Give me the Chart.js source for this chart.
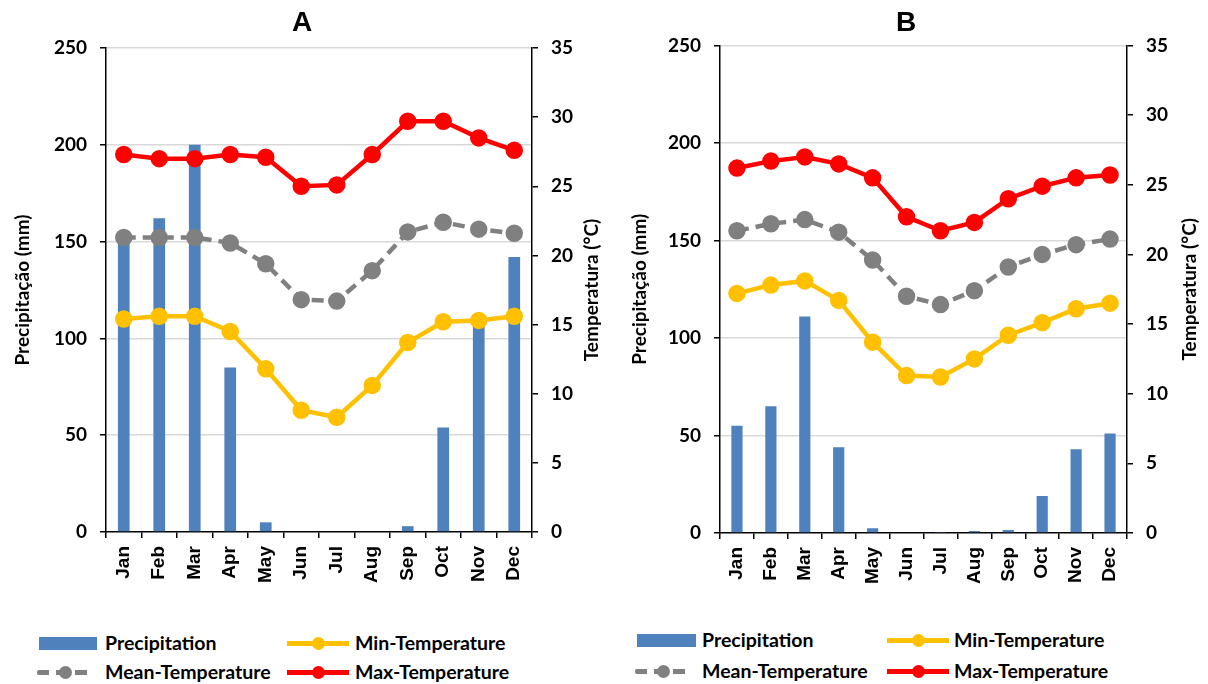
<!DOCTYPE html>
<html lang="pt-br">

<head>
    <meta charset="UTF-8">
    <title>Precipitação e Temperatura | A e B</title>
    <script src="https://cdn.jsdelivr.net/npm/chart.js"></script>
    <style>
        body {
            margin: 0;
            background: #fff;
        }

        .janela {
            position: relative;
            width: 1208px;
            height: 684px;
            overflow: hidden;
        }

        canvas {
            position: absolute;
            top: 0;
        }

        #graficoA {
            left: 0;
        }

        #graficoB {
            left: 604px;
        }

        .icone {
            position: absolute;
            width: 60px;
            height: 14px;
        }

        .textoLegenda {
            position: absolute;
            font: bold 19.5px Lato, sans-serif;
            color: #000;
            white-space: nowrap;
            line-height: 20px;
        }
    </style>
</head>

<body>
    <div class="janela" id="janela">
        <canvas id="graficoA" width="604" height="600"></canvas>
        <canvas id="graficoB" width="604" height="600"></canvas>
    </div>

    <script>
        // dados
        const meses = ['Jan', 'Feb', 'Mar', 'Apr', 'May', 'Jun', 'Jul', 'Aug', 'Sep', 'Oct', 'Nov', 'Dec'];
        const nomesSeries = ['Precipitation', 'Min-Temperature', 'Mean-Temperature', 'Max-Temperature'];
        const coresSeries = ['#4F81BD', '#FFC000', '#808080', '#FF0000'];
        const ticksPrecip = [0, 50, 100, 150, 200, 250];
        const ticksTemp = [0, 5, 10, 15, 20, 25, 30, 35];

        // A
        const precipA = [152, 162, 200, 85, 5, 0, 0, 0, 3, 54, 108, 142];
        const minA = [15.4, 15.6, 15.6, 14.5, 11.8, 8.8, 8.3, 10.6, 13.7, 15.2, 15.3, 15.6];
        const medA = [21.3, 21.3, 21.3, 20.9, 19.4, 16.8, 16.7, 18.9, 21.7, 22.4, 21.9, 21.6];
        const maxA = [27.3, 27.0, 27.0, 27.3, 27.1, 25.0, 25.1, 27.3, 29.7, 29.7, 28.5, 27.6];

        // B
        const precipB = [55, 65, 111, 44, 2.5, 0, 0.3, 1, 1.5, 19, 43, 51];
        const minB = [17.2, 17.8, 18.1, 16.7, 13.7, 11.3, 11.2, 12.5, 14.2, 15.1, 16.1, 16.5];
        const medB = [21.7, 22.2, 22.5, 21.6, 19.6, 17.0, 16.4, 17.4, 19.1, 20.0, 20.7, 21.1];
        const maxB = [26.2, 26.7, 27.0, 26.5, 25.5, 22.7, 21.7, 22.3, 24.0, 24.9, 25.5, 25.7];

        Chart.defaults.font.family = 'Lato, sans-serif';
        Chart.defaults.color = '#000';

        // titulo do eixo direito lendo de baixo para cima (igual ao esquerdo)
        const tituloDireito = {
            id: 'tituloDireito',
            afterDraw(chart, args, opts) {
                const esc = chart.scales.y1;
                const ctx = chart.ctx;
                ctx.save();
                ctx.translate(esc.right - opts.recuo, (esc.top + esc.bottom) / 2);
                ctx.rotate(-Math.PI / 2);
                ctx.font = 'bold 19px Lato, sans-serif';
                ctx.textAlign = 'center';
                ctx.textBaseline = 'middle';
                ctx.fillStyle = '#000';
                ctx.fillText(opts.texto, 0, 0);
                ctx.restore();
            }
        };

        function linha(label, dados, cor, tracejada, ordem) {
            return {
                type: 'line',
                label: label,
                data: dados,
                yAxisID: 'y1',
                borderColor: cor,
                backgroundColor: cor,
                pointBackgroundColor: cor,
                pointBorderColor: cor,
                borderWidth: 4.5,
                borderDash: tracejada ? [12, 7] : [],
                pointRadius: 6.5,
                tension: 0,
                fill: false,
                order: ordem
            };
        }

        function criarGrafico(idCanvas, letra, precip, tmin, tmed, tmax, m) {
            const config = {
                type: 'bar',
                data: {
                    labels: meses,
                    datasets: [
                        {
                            label: nomesSeries[0],
                            data: precip,
                            yAxisID: 'y',
                            backgroundColor: coresSeries[0],
                            categoryPercentage: 0.33,
                            barPercentage: 1,
                            order: 4
                        },
                        linha(nomesSeries[1], tmin, coresSeries[1], false, 2),
                        linha(nomesSeries[2], tmed, coresSeries[2], true, 3),
                        linha(nomesSeries[3], tmax, coresSeries[3], false, 1)
                    ]
                },
                options: {
                    responsive: false,
                    animation: false,
                    layout: { padding: 0 },
                    plugins: {
                        legend: { display: false },
                        tooltip: { enabled: false },
                        title: {
                            display: true,
                            text: letra,
                            font: { family: 'Liberation Sans, Arial, sans-serif', size: 28, weight: 'bold', lineHeight: 1.2 },
                            padding: { top: 6, bottom: m.topo - 6 - 33.6 }
                        },
                        tituloDireito: { texto: 'Temperatura (°C)', recuo: m.recuoDir }
                    },
                    scales: {
                        x: {
                            afterFit: function (s) { s.height = m.base; },
                            grid: {
                                offset: true,
                                drawOnChartArea: false,
                                tickColor: '#000',
                                tickLength: 6,
                                lineWidth: 1.5
                            },
                            border: { color: '#000', width: 1.5 },
                            ticks: {
                                maxRotation: 90,
                                minRotation: 90,
                                padding: 8,
                                font: { family: 'Liberation Sans, Arial, sans-serif', size: 19, weight: 'bold' }
                            }
                        },
                        y: {
                            position: 'left',
                            min: ticksPrecip[0],
                            max: ticksPrecip[ticksPrecip.length - 1],
                            afterFit: function (s) { s.width = m.esq; },
                            afterBuildTicks: function (s) { s.ticks = ticksPrecip.map(v => ({ value: v })); },
                            grid: {
                                color: ctx => (ctx.tick && ctx.tick.value === 0) ? 'rgba(0,0,0,0)' : '#D9D9D9',
                                lineWidth: 1.5,
                                tickColor: '#000',
                                tickLength: 6
                            },
                            border: { color: '#000', width: 1.5 },
                            ticks: {
                                padding: 13,
                                font: { size: 19, weight: 'bold' }
                            },
                            title: {
                                display: true,
                                text: 'Precipitação (mm)',
                                font: { size: 19, weight: 'bold', lineHeight: 1.2 },
                                padding: { top: m.recuoEsq - 11.4, bottom: 0 }
                            }
                        },
                        y1: {
                            position: 'right',
                            min: ticksTemp[0],
                            max: ticksTemp[ticksTemp.length - 1],
                            afterFit: function (s) { s.width = m.dir; },
                            afterBuildTicks: function (s) { s.ticks = ticksTemp.map(v => ({ value: v })); },
                            grid: {
                                drawOnChartArea: false,
                                tickColor: '#000',
                                tickLength: 6,
                                lineWidth: 1.5
                            },
                            border: { color: '#000', width: 1.5 },
                            ticks: {
                                padding: 13,
                                font: { size: 19, weight: 'bold' }
                            }
                        }
                    }
                },
                plugins: [tituloDireito]
            };

            return new Chart(document.getElementById(idCanvas), config);
        }

        // legenda em html, duas linhas por dois itens
        function criarLegenda(pos) {
            const janela = document.getElementById('janela');
            const tipos = ['barra', 'linha', 'tracejada', 'linha'];
            [0, 1, 2, 3].forEach(function (i) {
                const p = pos[i];
                const cor = coresSeries[i];
                const icone = document.createElement('div');
                icone.className = 'icone';
                icone.style.left = p.xi + 'px';
                icone.style.top = (p.y - 7) + 'px';
                icone.style.width = p.w + 'px';
                if (tipos[i] === 'barra') {
                    icone.style.background = cor;
                    icone.style.height = '13px';
                    icone.style.top = (p.y - 6.5) + 'px';
                } else {
                    const traco = document.createElement('div');
                    traco.style.position = 'absolute';
                    traco.style.left = '0';
                    traco.style.top = '5px';
                    traco.style.width = '100%';
                    traco.style.height = '4.5px';
                    if (tipos[i] === 'tracejada') {
                        traco.style.background = 'repeating-linear-gradient(90deg,' + cor + ' 0 12px, transparent 12px 19px)';
                        traco.style.borderRadius = '2px';
                    } else {
                        traco.style.background = cor;
                    }
                    icone.appendChild(traco);
                    const bola = document.createElement('div');
                    bola.style.position = 'absolute';
                    bola.style.left = (p.w / 2 - 6.5) + 'px';
                    bola.style.top = '0.5px';
                    bola.style.width = '13px';
                    bola.style.height = '13px';
                    bola.style.borderRadius = '50%';
                    bola.style.background = cor;
                    icone.appendChild(bola);
                }
                janela.appendChild(icone);

                const texto = document.createElement('div');
                texto.className = 'textoLegenda';
                texto.textContent = nomesSeries[i];
                texto.style.left = p.xt + 'px';
                texto.style.top = (p.y - 10) + 'px';
                janela.appendChild(texto);
            });
        }

        criarGrafico('graficoA', 'A', precipA, minA, medA, maxA,
            { esq: 106, dir: 72, topo: 48, base: 68, recuoEsq: 23, recuoDir: 12 });
        criarGrafico('graficoB', 'B', precipB, minB, medB, maxB,
            { esq: 116, dir: 81, topo: 45.5, base: 67, recuoEsq: 36, recuoDir: 18 });

        criarLegenda([
            { xi: 39, w: 58, xt: 105, y: 643 },
            { xi: 287, w: 62, xt: 355, y: 643 },
            { xi: 37, w: 57, xt: 105, y: 672 },
            { xi: 287, w: 62, xt: 355, y: 672 }
        ]);
        criarLegenda([
            { xi: 637, w: 59, xt: 702, y: 640 },
            { xi: 887, w: 62, xt: 954, y: 640 },
            { xi: 635, w: 57, xt: 702, y: 671 },
            { xi: 887, w: 62, xt: 954, y: 671 }
        ]);
    </script>
</body>

</html>
